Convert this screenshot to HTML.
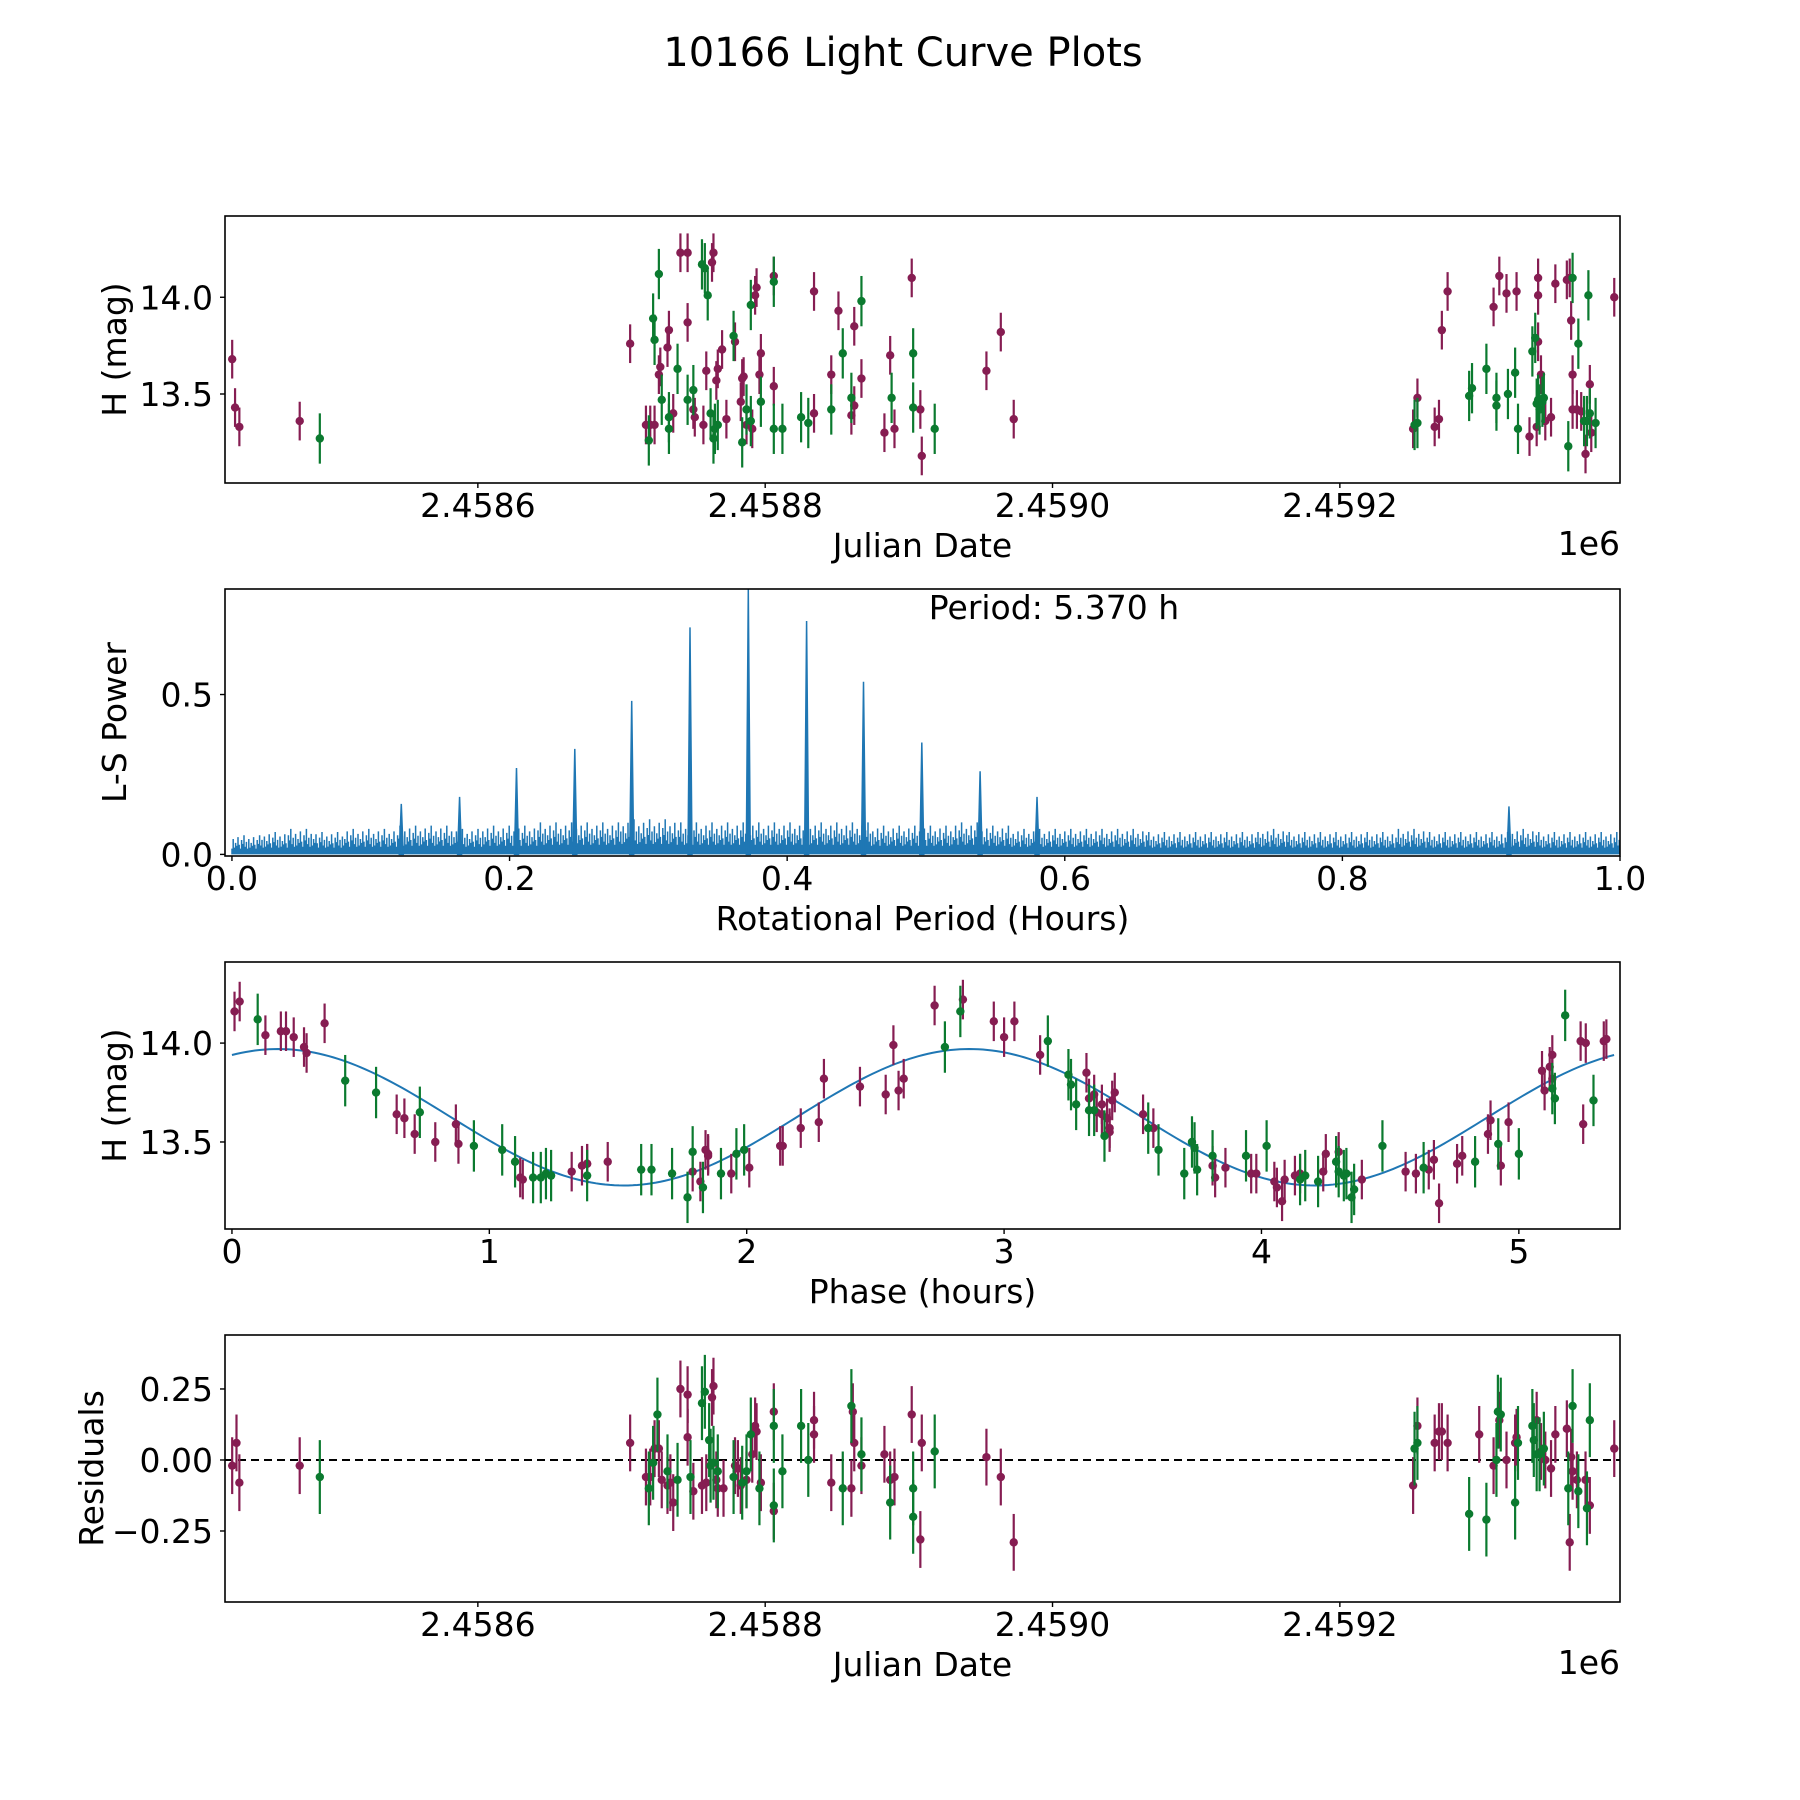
<!DOCTYPE html>
<html><head><meta charset="utf-8"><style>
html,body{margin:0;padding:0;background:#fff}
svg{display:block;font-family:"DejaVu Sans","Liberation Sans",sans-serif}
</style></head><body>
<svg id="fig" width="1800" height="1800" viewBox="0 0 1800 1800" xmlns="http://www.w3.org/2000/svg">
<text x="903" y="66" font-size="40" text-anchor="middle">10166 Light Curve Plots</text>
</svg>
<script>
// ---- Panel 1: light curve (days from 2458600, mag) ----
const lcPurpleDay=[-171,-169,-166,-124,106,117,120,123,126,127,132,133,136,141,146,146,150,151,157,159,163,164,166,167,170,173,179,183,184,185,187,191,193,194,196,197,206,206,234,234,246,251,260,262,262,267,283,287,290,302,308,309,354,364,373,651,654,666,669,671,675,707,711,716,723,732,737,738,738,740,743,747,738,750,758,760,761,762,762,765,768,771,774,775,791];
const lcPurpleMag=[13.68,13.43,13.33,13.36,13.76,13.34,13.34,13.34,13.60,13.64,13.74,13.83,13.40,14.23,13.87,14.23,13.42,13.38,13.34,13.62,14.18,14.23,13.57,13.63,13.73,13.37,13.77,13.46,13.58,13.59,13.34,13.32,14.01,14.05,13.60,13.71,14.11,13.54,14.03,13.40,13.60,13.93,13.39,13.44,13.85,13.58,13.30,13.70,13.32,14.10,13.42,13.18,13.62,13.82,13.37,13.32,13.48,13.33,13.37,13.83,14.03,13.95,14.11,14.02,14.03,13.28,13.33,14.10,14.01,13.60,13.36,13.38,13.77,14.07,14.09,14.10,13.88,13.60,13.42,13.42,13.41,13.19,13.55,13.30,14.00];
const lcGreenDay=[-110,119,122,123,126,128,133,133,139,146,150,156,158,160,162,164,165,167,178,184,187,190,190,197,206,206,212,225,230,246,254,260,267,288,303,303,318,652,654,690,692,702,709,709,717,722,724,734,736,737,738,739,741,742,759,762,766,770,772,773,774,778];
const lcGreenMag=[13.27,13.26,13.89,13.78,14.12,13.47,13.38,13.32,13.63,13.47,13.52,14.17,14.15,14.01,13.40,13.27,13.32,13.34,13.80,13.25,13.42,13.96,13.36,13.46,14.08,13.32,13.32,13.38,13.35,13.42,13.71,13.48,13.98,13.48,13.71,13.43,13.32,13.34,13.35,13.49,13.53,13.63,13.44,13.48,13.50,13.61,13.32,13.72,13.79,13.45,13.47,13.42,13.46,13.48,13.23,14.10,13.76,13.36,13.36,14.01,13.40,13.35];
const purpleErr=0.1, greenErr=0.13;
const jdTickLabels=["2.4586","2.4588","2.4590","2.4592"];
const jdTickDays=[0,200,400,600];
const magTicks=[13.5,14.0];
// ---- Panel 2: periodogram ----
const lsPeakPeriod=[0.122,0.164,0.205,0.247,0.288,0.330,0.372,0.414,0.455,0.497,0.539,0.580,0.920];
const lsPeakPower=[0.158,0.18,0.27,0.33,0.48,0.71,0.83,0.73,0.54,0.35,0.26,0.18,0.15];
const lsNoiseEnvelope=[0.06,0.07,0.08,0.07,0.08,0.08,0.09,0.09,0.08,0.09,0.09,0.10,0.10,0.10,0.11,0.11,0.10,0.10,0.10,0.10,0.10,0.10,0.10,0.09,0.09,0.09,0.10,0.09,0.08,0.08,0.08,0.08,0.08,0.07,0.07,0.07,0.07,0.08,0.07,0.07,0.07,0.07,0.08,0.07,0.07,0.07,0.08,0.07,0.07,0.07];
const lsXTicks=[0.0,0.2,0.4,0.6,0.8,1.0];
const lsXTickLabels=["0.0","0.2","0.4","0.6","0.8","1.0"];
const lsYTicks=[0.0,0.5];
const lsYTickLabels=["0.0","0.5"];
// ---- Panel 3: phased ----
const phPurplePhase=[0.01,0.03,0.13,0.19,0.21,0.24,0.28,0.29,0.36,0.64,0.67,0.71,0.79,0.87,0.88,1.12,1.13,1.32,1.36,1.38,1.38,1.46,1.79,1.82,1.84,1.85,1.85,1.94,2.01,2.13,2.14,2.21,2.28,2.30,2.44,2.54,2.57,2.59,2.61,2.73,2.84,2.96,3.00,3.04,3.14,3.32,3.33,3.35,3.36,3.38,3.38,3.40,3.41,3.41,3.42,3.43,3.54,3.58,3.81,3.82,3.86,3.96,3.98,4.05,4.06,4.08,4.09,4.13,4.15,4.24,4.25,4.30,4.39,4.56,4.60,4.65,4.67,4.69,4.76,4.78,4.88,4.89,4.93,4.96,5.09,5.10,5.12,5.13,5.13,5.24,5.25,5.26,5.33,5.34];
const phPurpleMag=[14.16,14.21,14.04,14.06,14.06,14.03,13.98,13.95,14.10,13.64,13.62,13.54,13.50,13.59,13.49,13.32,13.31,13.35,13.38,13.39,13.39,13.40,13.35,13.30,13.46,13.43,13.44,13.34,13.37,13.48,13.48,13.57,13.60,13.82,13.78,13.74,13.99,13.76,13.82,14.19,14.22,14.11,14.03,14.11,13.94,13.85,13.72,13.74,13.65,13.64,13.69,13.62,13.57,13.55,13.71,13.75,13.64,13.57,13.38,13.32,13.37,13.34,13.34,13.30,13.27,13.20,13.31,13.33,13.34,13.35,13.44,13.45,13.31,13.35,13.34,13.36,13.41,13.19,13.39,13.43,13.54,13.61,13.38,13.60,13.86,13.76,13.88,13.94,13.82,14.01,13.59,14.00,14.01,14.02];
const phGreenPhase=[0.10,0.44,0.56,0.73,0.94,1.05,1.10,1.17,1.20,1.22,1.24,1.38,1.59,1.63,1.71,1.77,1.79,1.83,1.90,1.96,1.99,2.77,2.83,3.17,3.25,3.26,3.28,3.33,3.35,3.39,3.56,3.60,3.70,3.73,3.74,3.75,3.81,3.94,4.02,4.15,4.17,4.22,4.29,4.30,4.32,4.33,4.35,4.36,4.47,4.63,4.83,4.92,5.00,5.13,5.14,5.18,5.29];
const phGreenMag=[14.12,13.81,13.75,13.65,13.48,13.46,13.40,13.32,13.32,13.34,13.33,13.33,13.36,13.36,13.34,13.22,13.45,13.27,13.34,13.44,13.46,13.98,14.16,14.01,13.84,13.79,13.69,13.66,13.66,13.53,13.57,13.46,13.34,13.50,13.47,13.36,13.43,13.43,13.48,13.31,13.33,13.30,13.40,13.35,13.33,13.34,13.22,13.26,13.48,13.37,13.40,13.49,13.44,13.77,13.72,14.14,13.71];
const modelParams=[13.625,0.345,5.37,0.18]; // mean, amplitude, period, peak phase
const phXTicks=[0,1,2,3,4,5];
// ---- Panel 4: residuals ----
const resPurpleDay=[-171,-168,-166,-124,106,117,120,123,126,128,132,134,136,141,146,146,150,156,159,163,164,166,167,171,179,181,183,187,191,193,194,197,206,206,234,234,246,260,261,262,267,283,287,290,302,308,309,354,364,373,651,654,666,669,671,675,697,707,711,716,722,723,737,740,743,747,750,758,760,761,762,765,771,774,791];
const resPurpleVal=[-0.02,0.06,-0.08,-0.02,0.06,-0.06,-0.06,0.04,0.04,-0.07,-0.09,-0.08,-0.15,0.25,0.23,0.08,-0.11,-0.09,-0.08,0.22,0.26,-0.07,-0.10,-0.10,-0.02,-0.03,-0.09,-0.07,0.02,0.12,0.10,-0.08,0.17,-0.18,0.09,0.14,-0.08,-0.10,0.17,0.06,-0.02,0.02,-0.07,-0.06,0.16,-0.28,0.06,0.01,-0.06,-0.29,-0.09,0.12,0.06,0.10,0.10,0.06,0.09,-0.02,0.14,0.00,0.06,0.08,0.14,0.03,0.00,-0.03,0.09,0.11,-0.29,0.01,-0.04,-0.07,-0.07,-0.16,0.04];
const resGreenDay=[-110,119,122,125,132,139,148,156,158,161,162,164,167,178,184,187,190,196,206,206,212,225,230,254,260,267,287,303,303,318,652,654,690,702,709,710,712,722,724,734,735,737,739,742,759,762,766,772,774];
const resGreenVal=[-0.06,-0.10,-0.01,0.16,-0.04,-0.07,-0.06,0.20,0.24,0.07,-0.02,-0.01,-0.04,-0.06,-0.08,-0.04,0.09,-0.10,0.12,-0.16,-0.04,0.12,0.00,-0.10,0.19,0.02,-0.15,-0.20,-0.10,0.03,0.04,0.06,-0.19,-0.21,0.00,0.17,0.16,-0.15,0.06,0.12,0.07,0.02,0.02,0.04,-0.10,0.19,-0.11,-0.17,0.14];
const resTicks=[0.25,0.0,-0.25];
const resTickLabels=["0.25","0.00","\u22120.25"];

const NS="http://www.w3.org/2000/svg";
const svg=document.getElementById('fig');
const PURPLE="#861d52", GREEN="#0b7a2f", BLUE="#1f77b4";
const L=225,R=1620,H=267;
const tops=[216,589,962,1335];
function mk(tag,attrs,parent){const e=document.createElementNS(NS,tag);for(const k in attrs)e.setAttribute(k,attrs[k]);(parent||svg).appendChild(e);return e;}
function lin(d0,d1,p0,p1){return v=>p0+(v-d0)/(d1-d0)*(p1-p0);}

function makeAxes(idx,name,xlim,ylim){
  const top=tops[idx],bot=top+H;
  const g=mk('g',{});
  
  
  const cp=mk('clipPath',{id:'clip'+idx},g);
  mk('rect',{x:L,y:top,width:R-L,height:H},cp);
  const plot=mk('g',{'clip-path':'url(#clip'+idx+')'},g);
  
  
  return {g,plot,top,bot,x:lin(xlim[0],xlim[1],L,R),y:lin(ylim[0],ylim[1],bot,top)};
}
function frame(ax){
  const f=mk('rect',{x:L,y:ax.top,width:R-L,height:H,fill:'none',stroke:'#000','stroke-width':1.6},ax.g);
  
  
}
function xTicks(ax,vals,labels){
  vals.forEach((v,i)=>{const px=ax.x(v);
    mk('line',{x1:px,x2:px,y1:ax.bot,y2:ax.bot+5,stroke:'#000','stroke-width':1.4},ax.g);
    const t=mk('text',{x:px,y:ax.bot+34,'font-size':33,'text-anchor':'middle'},ax.g);
    
    
    t.textContent=labels[i];});
}
function yTicks(ax,vals,labels){
  vals.forEach((v,i)=>{const py=ax.y(v);
    mk('line',{x1:L-5,x2:L,y1:py,y2:py,stroke:'#000','stroke-width':1.4},ax.g);
    const t=mk('text',{x:L-12,y:py+12,'font-size':33,'text-anchor':'end'},ax.g);
    
    
    t.textContent=labels[i];});
}
function labels(ax,xl,yl,ylx,offset){
  const t=mk('text',{x:(L+R)/2,y:ax.bot+74,'font-size':33,'text-anchor':'middle'},ax.g);
  
  
  t.textContent=xl;
  const cy=(ax.top+ax.bot)/2;
  const u=mk('text',{x:ylx,y:cy,'font-size':33,'text-anchor':'middle',transform:'rotate(-90 '+ylx+' '+cy+')'},ax.g);
  
  
  u.textContent=yl;
  if(offset){const o=mk('text',{x:R,y:ax.bot+72,'font-size':33,'text-anchor':'end'},ax.g);
    
    
    o.textContent=offset;}
}
function scatter(ax,xs,ys,err,color,name){
  const g=mk('g',{},ax.plot);
  
  
  xs.forEach((xv,i)=>{const px=ax.x(xv),py=ax.y(ys[i]);
    const e=mk('line',{x1:px,x2:px,y1:ax.y(ys[i]-err),y2:ax.y(ys[i]+err),stroke:color,'stroke-width':2.2},g);
    
    
    const c=mk('circle',{cx:px,cy:py,r:4.2,fill:color},g);
    
    
  });
}

// Panel 1
const ax1=makeAxes(0,'light-curve-axes',[-176,795],[13.04,14.42]);
scatter(ax1,lcPurpleDay,lcPurpleMag,purpleErr,PURPLE,'purple-series');
scatter(ax1,lcGreenDay,lcGreenMag,greenErr,GREEN,'green-series');
frame(ax1);xTicks(ax1,jdTickDays,jdTickLabels);yTicks(ax1,magTicks,magTicks.map(v=>v.toFixed(1)));
labels(ax1,'Julian Date','H (mag)',126,'1e6');

// Panel 2
const ax2=makeAxes(1,'periodogram-axes',[-0.005,1.0],[-0.005,0.83]);
{
  const g=mk('g',{},ax2.plot);
  
  
  const pattern=[0.35,0.6,0.45,0.9,0.5,0.3,0.75,0.55,1.0,0.4,0.65,0.3,0.8];
  let d='';
  const nb=lsNoiseEnvelope.length;
  for(let px=Math.ceil(ax2.x(0));px<=ax2.x(1);px+=1.2){
    const v=(px-ax2.x(0))/(ax2.x(1)-ax2.x(0));
    const env=lsNoiseEnvelope[Math.min(nb-1,Math.floor(v*nb))];
    const h=env*pattern[Math.round(px/1.2)%pattern.length];
    d+='M'+px+' '+ax2.y(0)+'V'+ax2.y(h);
  }
  mk('path',{d:d,stroke:BLUE,'stroke-width':1.5,fill:'none'},g);
  lsPeakPeriod.forEach((p,i)=>{
    const px=ax2.x(p);
    const s=mk('path',{d:'M'+(px-2)+' '+ax2.y(0)+'L'+px+' '+ax2.y(lsPeakPower[i])+'L'+(px+2)+' '+ax2.y(0)+'Z',fill:BLUE,stroke:BLUE,'stroke-width':1.5},g);
    
    
  });
}
frame(ax2);xTicks(ax2,lsXTicks,lsXTickLabels);yTicks(ax2,lsYTicks,lsYTickLabels);
labels(ax2,'Rotational Period (Hours)','L-S Power',126,null);
{const t=mk('text',{x:1054,y:619,'font-size':33,'text-anchor':'middle'},ax2.g);
 
 
 t.textContent='Period: 5.370 h';}

// Panel 3
const ax3=makeAxes(2,'phased-curve-axes',[-0.027,5.393],[13.06,14.41]);
{
  const [m,a,P,ph0]=modelParams;let d='';
  for(let i=0;i<=300;i++){const t=P*i/300;const v=m+a*Math.cos(4*Math.PI*(t-ph0)/P);
    d+=(i?'L':'M')+ax3.x(t).toFixed(2)+' '+ax3.y(v).toFixed(2);}
  const p=mk('path',{d:d,fill:'none',stroke:BLUE,'stroke-width':2},ax3.plot);
  
  
}
scatter(ax3,phPurplePhase,phPurpleMag,purpleErr,PURPLE,'purple-phased-series');
scatter(ax3,phGreenPhase,phGreenMag,greenErr,GREEN,'green-phased-series');
frame(ax3);xTicks(ax3,phXTicks,phXTicks.map(String));yTicks(ax3,magTicks,magTicks.map(v=>v.toFixed(1)));
labels(ax3,'Phase (hours)','H (mag)',126,null);

// Panel 4
const ax4=makeAxes(3,'residuals-axes',[-176,795],[-0.50,0.44]);
{const l=mk('line',{x1:L,x2:R,y1:ax4.y(0),y2:ax4.y(0),stroke:'#000','stroke-width':2,'stroke-dasharray':'8,5'},ax4.plot);
 
 }
scatter(ax4,resPurpleDay,resPurpleVal,purpleErr,PURPLE,'purple-residuals');
scatter(ax4,resGreenDay,resGreenVal,greenErr,GREEN,'green-residuals');
frame(ax4);xTicks(ax4,jdTickDays,jdTickLabels);yTicks(ax4,resTicks,resTickLabels);
labels(ax4,'Julian Date','Residuals',103,'1e6');
</script>
</body></html>
